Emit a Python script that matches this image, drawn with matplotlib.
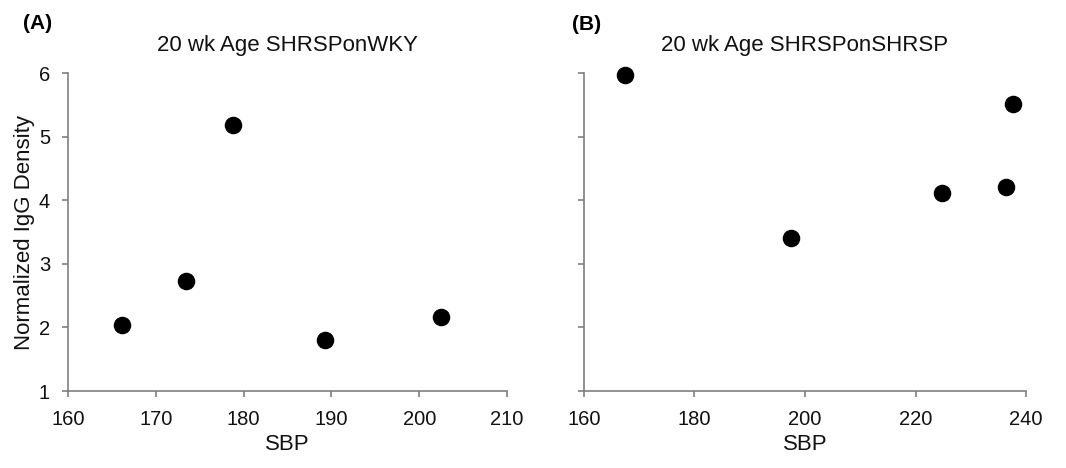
import matplotlib
matplotlib.use("Agg")
import matplotlib.pyplot as plt

plt.rcParams['font.family'] = ['Liberation Sans', 'DejaVu Sans']

sbp_a = [166.1, 173.4, 178.8, 189.3, 202.5]
igg_a = [2.04, 2.73, 5.18, 1.80, 2.17]
sbp_b = [167.4, 197.4, 224.8, 236.4, 237.7]
igg_b = [5.97, 3.41, 4.12, 4.21, 5.52]

title_a = "20 wk Age SHRSPonWKY"
title_b = "20 wk Age SHRSPonSHRSP"
xticks_a = [160, 170, 180, 190, 200, 210]
xticks_b = [160, 180, 200, 220, 240]
yticks = [1, 2, 3, 4, 5, 6]

fig = plt.figure(figsize=(10.66, 4.68), dpi=100)
axA = fig.add_axes([0.0638, 0.1645, 0.4118, 0.6795])
axB = fig.add_axes([0.5478, 0.1645, 0.4147, 0.6795])

spine_col = '#7f7f7f'
text_col = '#111111'
for ax, x, y, xt, title, show_y in [(axA, sbp_a, igg_a, xticks_a, title_a, True),
                                     (axB, sbp_b, igg_b, xticks_b, title_b, False)]:
    ax.scatter(x, y, s=135, color='black', zorder=3, clip_on=False)
    ax.set_xlim(xt[0], xt[-1])
    ax.set_ylim(1, 6)
    ax.set_xticks(xt)
    ax.set_yticks(yticks)
    for s in ['top', 'right']:
        ax.spines[s].set_visible(False)
    for s in ['left', 'bottom']:
        ax.spines[s].set_color(spine_col)
        ax.spines[s].set_linewidth(1.2)
    ax.tick_params(axis='both', direction='out', length=4, width=1.2, color=spine_col,
                   labelsize=14.5, labelcolor=text_col)
    ax.tick_params(axis='x', pad=10)
    ax.tick_params(axis='y', pad=9)
    ax.set_xlabel('SBP', fontsize=16, labelpad=3, color=text_col)
    ax.set_title(title, fontsize=16, pad=16, color=text_col)
    if show_y:
        ax.set_ylabel('Normalized IgG Density', fontsize=16, labelpad=3, color=text_col)
    else:
        ax.tick_params(axis='y', labelleft=False)

fig.text(0.022, 0.949, '(A)', fontsize=15, fontweight='bold', va='center', ha='left')
fig.text(0.537, 0.947, '(B)', fontsize=15, fontweight='bold', va='center', ha='left')

fig.savefig('out.png', dpi=100)
